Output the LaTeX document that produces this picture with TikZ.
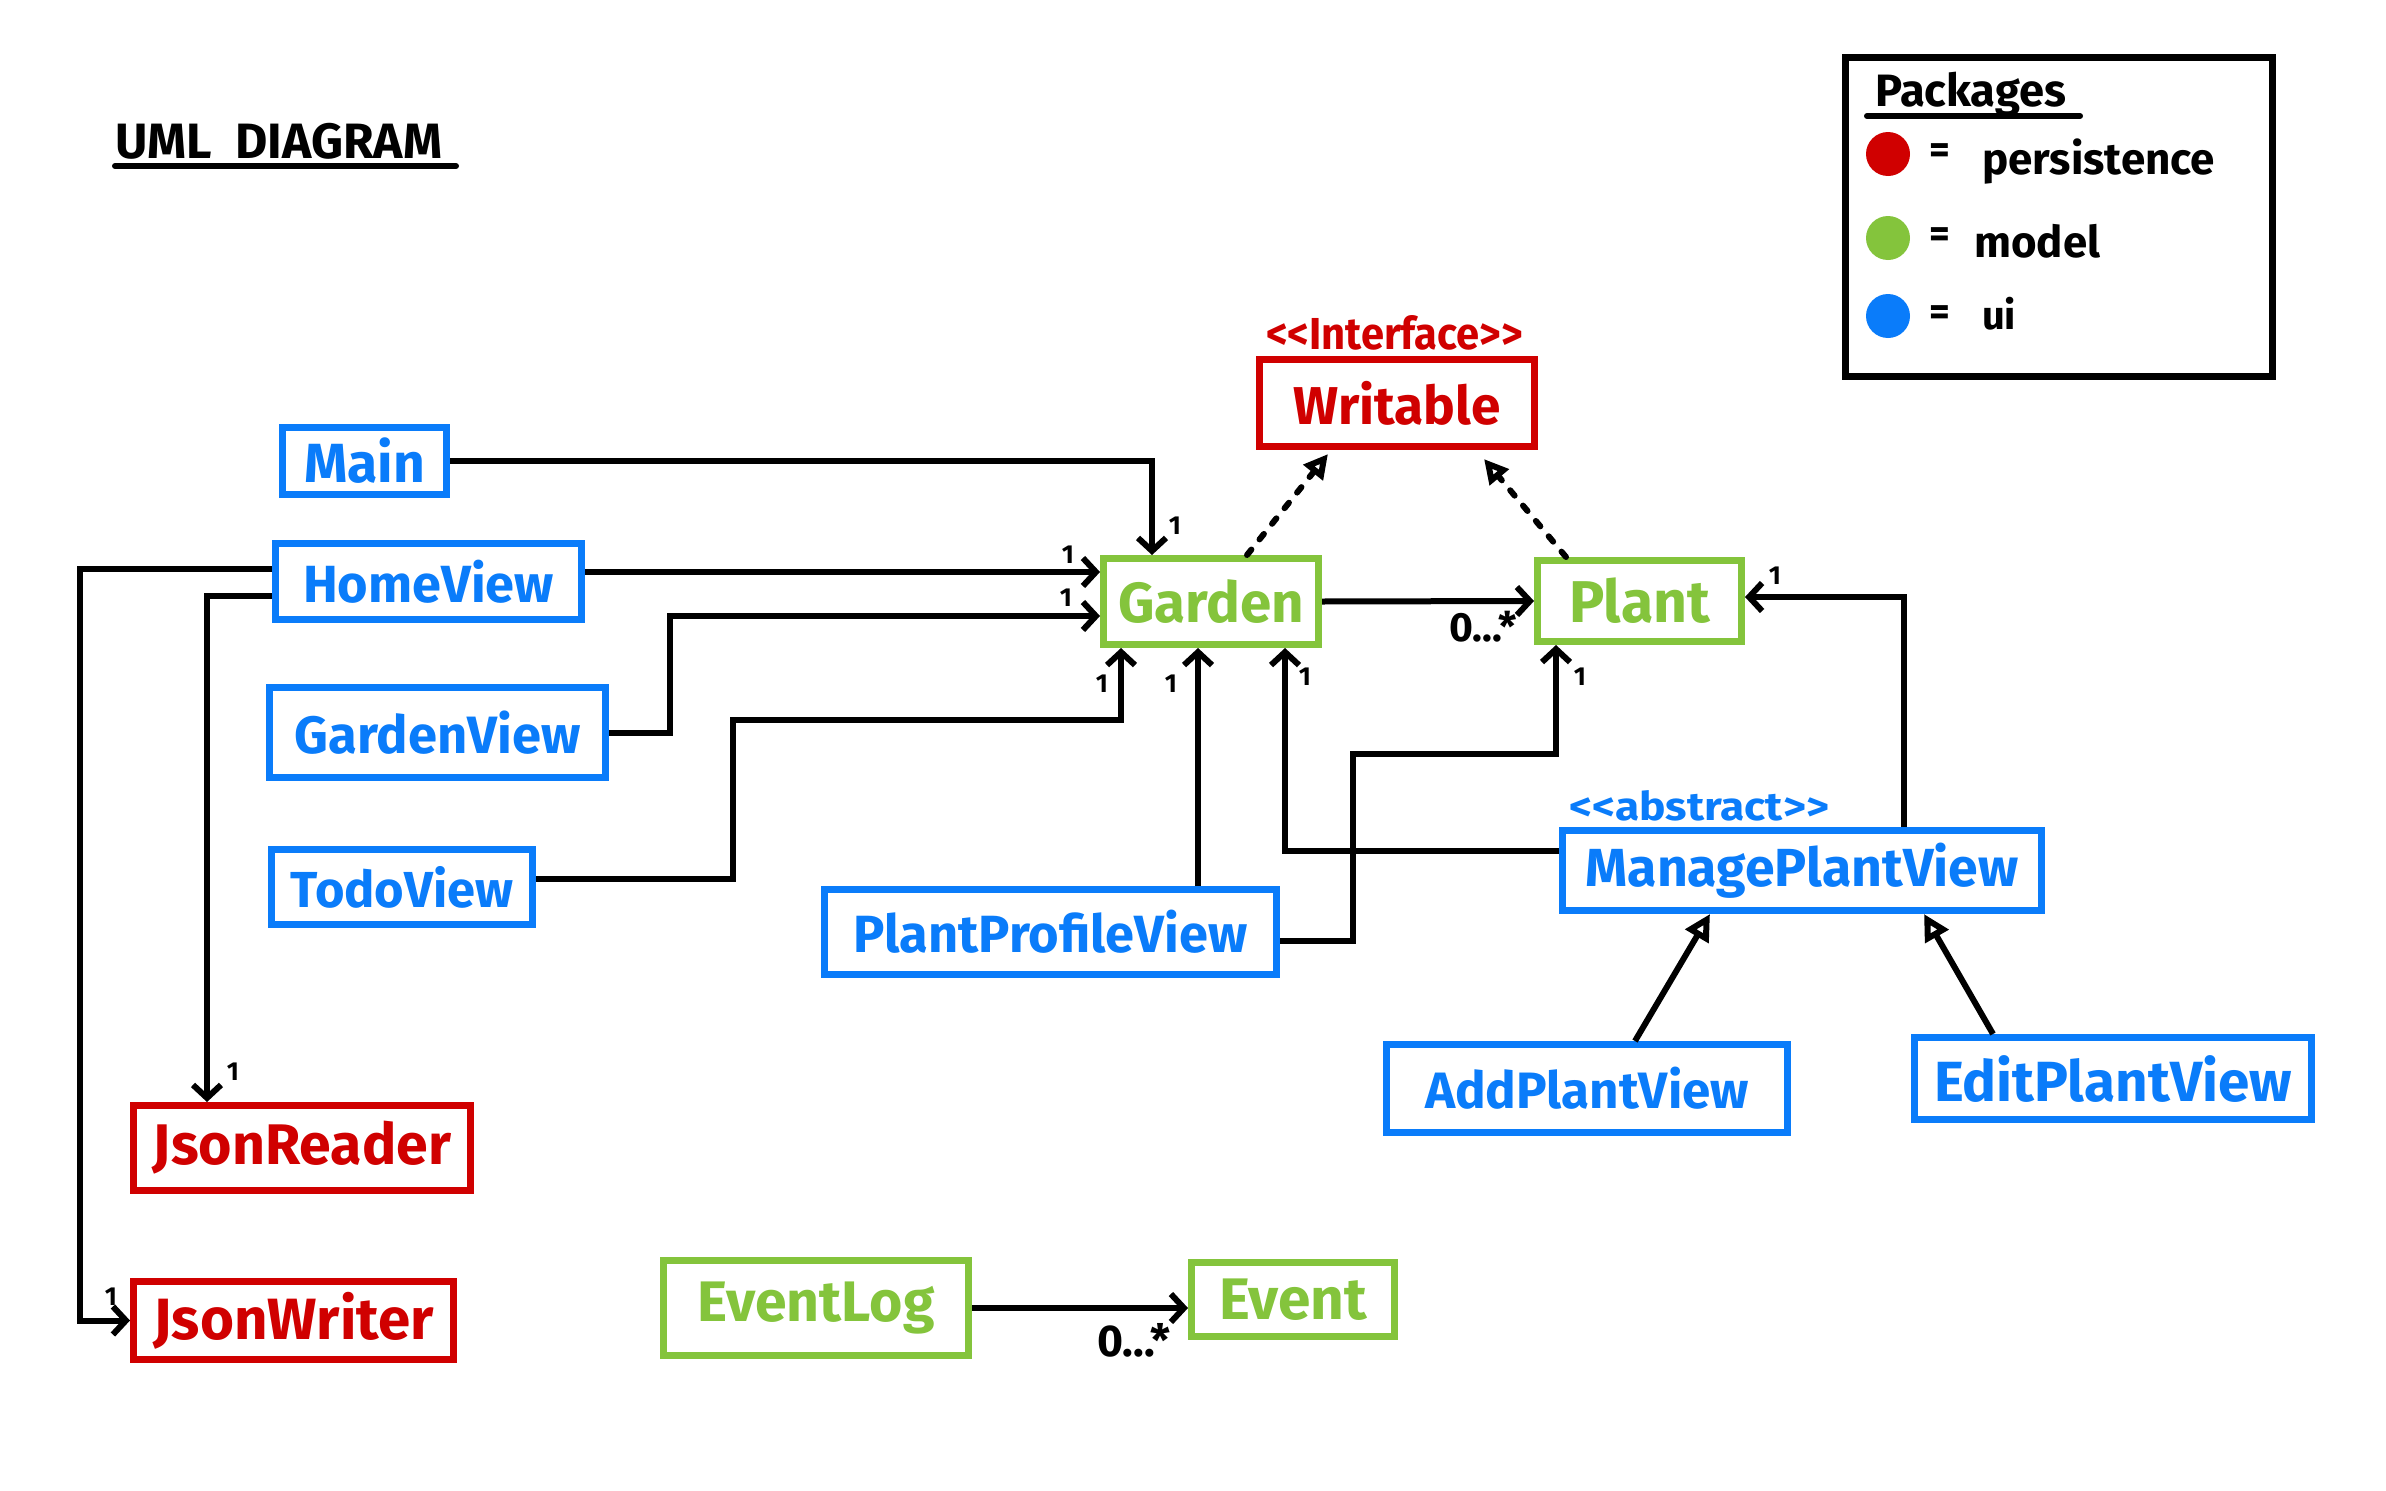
\documentclass[tikz,border=0pt]{standalone}
\usepackage{fontspec}
\setmainfont{Fira Sans}
\usetikzlibrary{arrows.meta,calc}
\definecolor{cred}{RGB}{208,0,0}
\definecolor{cgreen}{RGB}{132,196,60}
\definecolor{cblue}{RGB}{10,124,250}
\newcommand\fitw[2]{\resizebox{#1pt}{!}{#2}}
\newcommand\fitwh[3]{\resizebox{#1pt}{#2pt}{#3}}
\begin{document}
\begin{tikzpicture}[x=1pt,y=-1pt,
  cls/.style={draw=#1, text=#1, line width=7pt, inner sep=0pt, font=\bfseries\fontsize{50}{56}\selectfont},
  stereo/.style={text=#1, inner sep=0pt, font=\bfseries\fontsize{36}{40}\selectfont},
  assoc/.style={line width=6pt, -{Straight Barb[length=13pt,width=28pt]}},
  real/.style={line width=6pt, line cap=round, dash pattern=on 7pt off 13pt, -{Triangle[open,length=24pt,width=24pt,fill=white]}},
  inh/.style={line width=6pt, -{Triangle[open,length=26pt,width=26pt,fill=white]}},
  mult/.style={font=\bfseries\fontsize{26}{26}\selectfont, inner sep=0pt},
  multb/.style={font=\bfseries\fontsize{30}{30}\selectfont, inner sep=0pt},
  legtxt/.style={font=\bfseries\fontsize{40}{44}\selectfont, inner sep=0pt, anchor=base west}
]
\useasboundingbox (0,0) rectangle (2386,1491);
\fill[white] (0,0) rectangle (2386,1491);

% title
\node[inner sep=0pt, anchor=base west, font=\bfseries\fontsize{40}{44}\selectfont] (title) at (115,158) {\fitw{327}{UML\ \ DIAGRAM}};
\draw[line width=6pt, line cap=round] (title.south west |- 0,166) coordinate (u1) -- (456,166) coordinate (u2);

% legend
\node[draw, line width=7pt, minimum width=427pt, minimum height=319pt, inner sep=0pt] (legend) at (2059,217) {};
\node[legtxt] (pk) at (1875,106) {\fitw{191}{Packages}};
\draw[line width=6pt, line cap=round] (1867,116) coordinate (pu1) -- (2080,116) coordinate (pu2);
\fill[cred] (1888,154) circle[radius=22] coordinate (cr);
\fill[cgreen] (1888,238) circle[radius=22] coordinate (cg);
\fill[cblue] (1888,316) circle[radius=22] coordinate (cb);
\node[legtxt, anchor=center] (e1) at (1940,154) {=};
\node[legtxt, anchor=center] (e2) at (1940,238) {=};
\node[legtxt, anchor=center] (e3) at (1940,316) {=};
\node[legtxt] (lp) at (1982,174) {\fitw{233}{persistence}};
\node[legtxt] (lm) at (1974,257) {\fitw{126}{model}};
\node[legtxt] (lu) at (1982,329) {\fitw{34}{ui}};

% classes
\node[cls=cblue, minimum width=164pt, minimum height=67pt] (main) at (364.5,461) {\fitw{121}{Main}};
\node[cls=cblue, minimum width=306pt, minimum height=76pt] (home) at (428.5,581.5) {\fitw{251}{HomeView}};
\node[cls=cblue, minimum width=336pt, minimum height=90pt] (gview) at (437.5,732.5) {\fitw{286}{GardenView}};
\node[cls=cblue, minimum width=261pt, minimum height=75pt] (todo) at (402,887) {\fitw{223}{TodoView}};
\node[cls=cblue, minimum width=452pt, minimum height=85pt] (ppv) at (1050.5,932) {\fitw{394}{PlantProfileView}};
\node[cls=cgreen, minimum width=215pt, minimum height=86pt] (garden) at (1211,601.5) {\fitw{186}{Garden}};
\node[cls=cgreen, minimum width=204pt, minimum height=81pt] (plant) at (1639.5,601) {\fitw{141}{Plant}};
\node[cls=cred, minimum width=275pt, minimum height=87pt] (writable) at (1397,403) {\fitw{207}{Writable}};
\node[stereo=cred] (st1) at (1394.5,332.5) {\fitwh{257}{34}{<{}<Interface>{}>}};
\node[cls=cblue, minimum width=479pt, minimum height=80pt] (mpv) at (1802,870.5) {\fitw{433}{ManagePlantView}};
\node[stereo=cblue] (st2) at (1699,805.5) {\fitwh{260}{30}{<{}<abstract>{}>}};
\node[cls=cblue, minimum width=401pt, minimum height=88pt] (apv) at (1587,1088.5) {\fitw{324}{AddPlantView}};
\node[cls=cblue, minimum width=397pt, minimum height=82pt] (epv) at (2113,1078.5) {\fitw{358}{EditPlantView}};
\node[cls=cred, minimum width=337pt, minimum height=85pt] (jreader) at (302,1148) {\fitw{298}{JsonReader}};
\node[cls=cred, minimum width=320pt, minimum height=78pt] (jwriter) at (293.5,1320.5) {\fitw{280}{JsonWriter}};
\node[cls=cgreen, minimum width=305pt, minimum height=95pt] (elog) at (816,1308) {\fitw{237}{EventLog}};
\node[cls=cgreen, minimum width=203pt, minimum height=74pt] (event) at (1293,1299.5) {\fitw{148}{Event}};

% associations
\draw[assoc] (main.east) -| ([xshift=-59pt]garden.north);
\draw[assoc] ([yshift=9.5pt]home.east) -- ([yshift=9.5pt]home.east -| garden.west);
\draw[assoc] (gview.east) -- ++(61,0) |- ([yshift=-14.5pt]garden.west);
\coordinate (t1) at (733,720);
\draw[assoc] ([yshift=8pt]todo.east) -| (t1) -| ([xshift=-90pt]garden.south);
\draw[assoc] ([xshift=-13pt]garden.south |- ppv.north) -- ([xshift=-13pt]garden.south);
\draw[assoc] ([yshift=20pt]mpv.west) -| ([xshift=74pt]garden.south);
\coordinate (p1) at (1353,754);
\draw[assoc] ([yshift=-9pt]ppv.east) -| (p1) -| ([xshift=-83.5pt]plant.south);
\draw[assoc] ([xshift=102pt]mpv.north) |- ([yshift=4pt]plant.east);
\draw[assoc] (garden.east) -- (plant.west);
\draw[assoc] ([yshift=-14.5pt]home.west) -| ([xshift=-95pt]jreader.north);
\draw[assoc] ([yshift=12.5pt]home.west) -- ++(-192,0) |- (jwriter.west);
\draw[assoc] (elog.east) -- (elog.east -| event.west);

% realizations
\draw[real] ([xshift=36pt]garden.north) -- ([xshift=-69pt,yshift=-4pt]writable.south);
\draw[real] ([xshift=-73.5pt]plant.north) -- ([xshift=87pt,yshift=-9pt]writable.south);

% inheritance
\draw[inh] ([xshift=48pt]apv.north) -- ([xshift=-92pt]mpv.south);
\draw[inh] ([xshift=-120pt]epv.north) -- ([xshift=122pt]mpv.south);

% multiplicities
\node[mult] (m1) at (1175,526) {1};
\node[mult] (m2) at (1068,555) {1};
\node[mult] (m3) at (1066,598) {1};
\node[mult] (m4) at (1102,684) {1};
\node[mult] (m5) at (1171,684) {1};
\node[mult] (m6) at (1305,677) {1};
\node[mult] (m7) at (1580,677) {1};
\node[mult] (m8) at (1775,576) {1};
\node[mult] (m9) at (233,1072) {1};
\node[mult] (m10) at (111,1297) {1};
\node[multb] (z1) at (1483,627) {\fitw{67}{0...*}};
\node[multb] (z2) at (1134,1340) {\fitw{73}{0...*}};
\end{tikzpicture}
\end{document}
